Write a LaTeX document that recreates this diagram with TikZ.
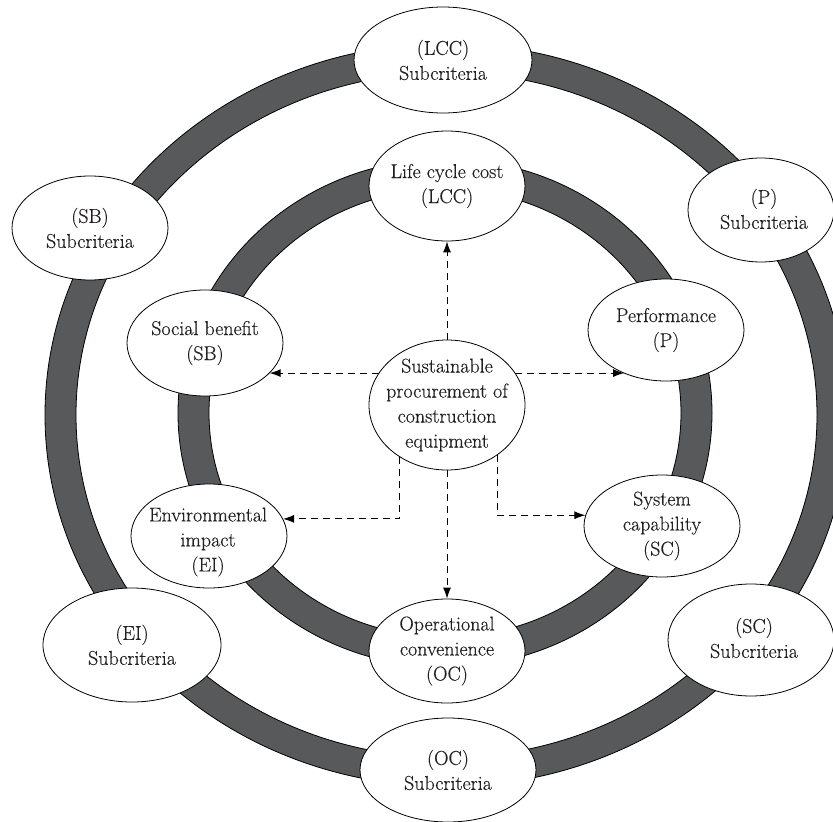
\documentclass[tikz,border=0pt]{standalone}
\usepackage{fontspec}
\newfontfamily\lblfont{Latin Modern Roman}[FakeBold=0.35]
\usetikzlibrary{shapes.geometric,arrows.meta}
\definecolor{ringgray}{HTML}{58595B}
\definecolor{inkc}{HTML}{231F20}
\begin{document}
\begin{tikzpicture}[x=1pt,y=-1pt,
  ell/.style={draw=black, line width=0.8pt, fill=white, ellipse, inner sep=0pt},
  lbl/.style={align=center, font=\lblfont\fontsize{20}{25}\selectfont, inner sep=0pt, text=inkc},
  conn/.style={draw=black, line width=0.9pt, dash pattern=on 7pt off 5pt, -{Latex[length=11pt,width=8pt]}},
  ring/.style={fill=ringgray, draw=black, line width=0.8pt, even odd rule}]
\useasboundingbox (0,0) rectangle (833,822);
% rings
\path[ring] (446.5,415) ellipse [x radius=401.5pt, y radius=371.5pt]
            (446.5,415) ellipse [x radius=370.5pt, y radius=342.5pt];
\path[ring] (445,413) ellipse [x radius=267pt, y radius=254pt]
            (445,413) ellipse [x radius=236pt, y radius=224pt];
% outer nodes
\node[ell, minimum width=178pt, minimum height=106pt] (lccs) at (443,60) {};
\node[ell, minimum width=146pt, minimum height=104pt] (ps) at (761,210) {};
\node[ell, minimum width=156pt, minimum height=104pt] (sbs) at (90,228) {};
\node[ell, minimum width=178pt, minimum height=114pt] (eis) at (132,645) {};
\node[ell, minimum width=176pt, minimum height=104pt] (ocs) at (448,770) {};
\node[ell, minimum width=166pt, minimum height=112pt] (scs) at (751,640) {};
% inner nodes
\node[ell, minimum width=156pt, minimum height=110pt] (lcc) at (447,186) {};
\node[ell, minimum width=156pt, minimum height=102pt] (p) at (666,330) {};
\node[ell, minimum width=156pt, minimum height=106pt] (sb) at (205,343) {};
\node[ell, minimum width=156pt, minimum height=104pt] (ei) at (209,536) {};
\node[ell, minimum width=156pt, minimum height=102pt] (sc) at (662,526) {};
\node[ell, minimum width=156pt, minimum height=104pt] (oc) at (447,651) {};
\node[ell, minimum width=156pt, minimum height=130pt] (ctr) at (447,405) {};
% labels
\node[lbl] (lccs-t) at (lccs) {(LCC)\\Subcriteria};
\node[lbl] (ps-t) at (764,209) {(P)\\Subcriteria};
\node[lbl] (sbs-t) at (sbs) {(SB)\\Subcriteria};
\node[lbl] (eis-t) at (eis) {(EI)\\Subcriteria};
\node[lbl] (ocs-t) at (ocs) {(OC)\\Subcriteria};
\node[lbl] (scs-t) at (754,638) {(SC)\\Subcriteria};
\node[lbl] (lcc-t) at (lcc) {Life cycle cost\\(LCC)};
\node[lbl] (p-t) at (p) {Performance\\(P)};
\node[lbl] (sb-t) at (sb) {Social benefit\\(SB)};
\node[lbl] (ei-t) at (208,542) {Environmental\\impact\\(EI)};
\node[lbl] (sc-t) at (sc) {System\\capability\\(SC)};
\node[lbl] (oc-t) at (oc) {Operational\\convenience\\(OC)};
\node[lbl] (ctr-t) at (ctr) {Sustainable\\procurement of\\construction\\equipment};
% connectors
\draw[conn] (ctr.north) -- (lcc.south);
\draw[conn] (ctr.155) -- (ctr.155 -| sb.-25);
\draw[conn] (ctr.25) -- (ctr.25 -| p.-134);
\draw[conn] (ctr.south) -- (oc.north);
\draw[conn] (ctr.-132) |- (ei.13);
\draw[conn] (ctr.-45) |- (sc.172);
\end{tikzpicture}
\end{document}
